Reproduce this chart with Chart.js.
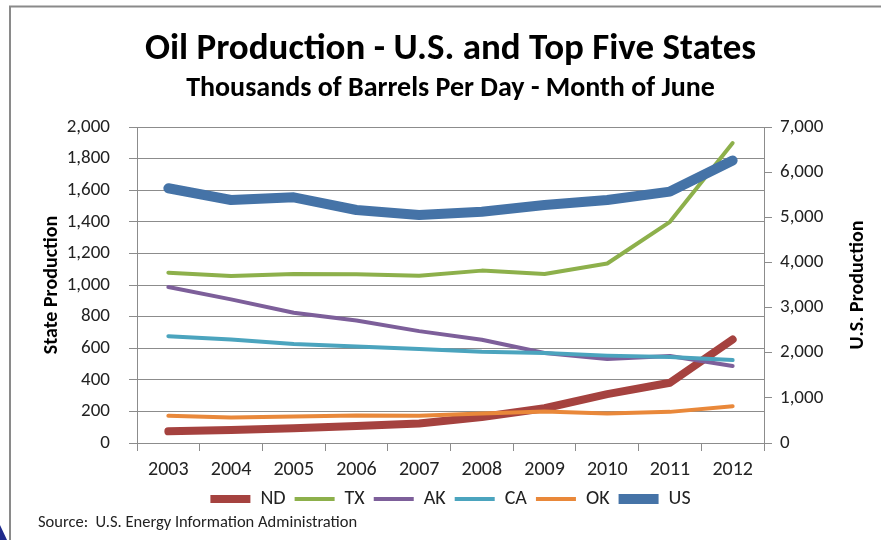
<!DOCTYPE html>
<html>
<head>
<meta charset="utf-8">
<script src="https://cdn.jsdelivr.net/npm/chart.js@4.4.1/dist/chart.umd.min.js"></script>
<style>
  html, body { margin: 0; padding: 0; background: #fff; }
  #wrap { position: relative; width: 881px; height: 540px; overflow: hidden; }
  #c { position: absolute; left: 0; top: 0; }
  #source { position: absolute; left: 38px; top: 511px; font-family: Carlito, "Liberation Sans Narrow", "DejaVu Sans Condensed", sans-serif; font-size: 16.5px; color: #222; }
</style>
</head>
<body>
<div id="wrap">
  <canvas id="c" width="881" height="540"></canvas>
  <div id="source">Source:&nbsp; U.S. Energy Information Administration</div>
</div>
<script>
const years = ['2003','2004','2005','2006','2007','2008','2009','2010','2011','2012'];
const nd = [74, 83, 93, 108, 123, 165, 220, 309, 381, 655];
const tx = [1078, 1057, 1070, 1068, 1059, 1091, 1070, 1136, 1400, 1898];
const ak = [987, 909, 824, 775, 708, 653, 570, 532, 551, 487];
const ca = [676, 655, 627, 610, 595, 578, 570, 553, 544, 525];
const ok = [172, 161, 167, 174, 172, 186, 199, 186, 197, 233];
const us = [5643, 5383, 5443, 5161, 5050, 5124, 5272, 5383, 5569, 6258];

const FONT = 'Carlito, "Liberation Sans Narrow", "DejaVu Sans Condensed", sans-serif';
const GRID = '#8c8c8c';
const TXT = '#222';

const framePlugin = {
  id: 'frame',
  beforeDraw(chart) {
    const ctx = chart.ctx;
    ctx.save();
    ctx.fillStyle = '#fff';
    ctx.fillRect(0, 0, chart.width, chart.height);
    ctx.strokeStyle = '#8a8a8a';
    ctx.lineWidth = 2;
    ctx.beginPath();
    ctx.moveTo(10, 540);
    ctx.lineTo(10, 6.5);
    ctx.lineTo(881, 6.5);
    ctx.stroke();
    ctx.fillStyle = '#1f2a8c';
    ctx.beginPath();
    ctx.moveTo(0, 525);
    ctx.lineTo(7, 540);
    ctx.lineTo(0, 540);
    ctx.closePath();
    ctx.fill();
    ctx.restore();
  },
  afterDraw(chart) {
    const ctx = chart.ctx;
    const a = chart.chartArea;
    ctx.save();
    ctx.translate(858, (a.top + a.bottom) / 2);
    ctx.rotate(-Math.PI / 2);
    ctx.font = 'bold 20px ' + FONT;
    ctx.fillStyle = '#000';
    ctx.textAlign = 'center';
    ctx.textBaseline = 'middle';
    ctx.fillText('U.S. Production', 0, 0);
    ctx.restore();
  }
};

function ds(label, data, color, width, order, axis) {
  return {
    label, data,
    borderColor: color, backgroundColor: color,
    borderWidth: width, pointRadius: 0, pointHoverRadius: 0,
    borderCapStyle: 'round', borderJoinStyle: 'round',
    tension: 0, order, yAxisID: axis || 'y'
  };
}

new Chart(document.getElementById('c'), {
  type: 'line',
  data: {
    labels: years,
    datasets: [
      ds('ND', nd, '#A5423F', 8, 5),
      ds('TX', tx, '#8DB04B', 4, 4),
      ds('AK', ak, '#7D5F9A', 4, 3),
      ds('CA', ca, '#4BA4BE', 4, 2),
      ds('OK', ok, '#E9883A', 4, 1),
      ds('US', us, '#4573A7', 10, 0, 'y2')
    ]
  },
  plugins: [framePlugin],
  options: {
    responsive: false,
    animation: false,
    events: [],
    layout: { padding: { left: 20, right: 0, top: 0, bottom: 21 } },
    plugins: {
      title: {
        display: true,
        text: 'Oil Production - U.S. and Top Five States',
        color: '#000',
        font: { family: FONT, size: 37, weight: 'bold' },
        padding: { top: 27.4, bottom: 0 }
      },
      subtitle: {
        display: true,
        text: 'Thousands of Barrels Per Day - Month of June',
        color: '#000',
        font: { family: FONT, size: 28, weight: 'bold' },
        padding: { top: 0.4, bottom: 21.2 }
      },
      legend: {
        position: 'bottom',
        labels: {
          sort: (a, b) => a.datasetIndex - b.datasetIndex,
          usePointStyle: true,
          pointStyleWidth: 40,
          pointStyle: 'line',
          boxHeight: 8,
          color: TXT,
          padding: 9,
          font: { family: FONT, size: 20 }
        }
      },
      tooltip: { enabled: false }
    },
    scales: {
      x: {
        offset: true,
        grid: { offset: true, drawOnChartArea: false, color: GRID, tickLength: 8 },
        border: { color: GRID },
        ticks: { color: TXT, font: { family: FONT, size: 20 }, padding: 7, maxRotation: 0 },
        afterFit(s) { s.height = 37; }
      },
      y: {
        position: 'left',
        min: 0, max: 2000,
        ticks: { stepSize: 200, color: TXT, font: { family: FONT, size: 19 }, padding: 19,
          callback: v => v.toLocaleString('en-US') },
        grid: { color: GRID, tickLength: 8 },
        border: { color: GRID },
        title: { display: true, text: 'State Production', color: '#000',
          font: { family: FONT, size: 20, weight: 'bold' }, padding: { top: 20, bottom: 0 } },
        afterFit(s) { s.width = 117; }
      },
      y2: {
        position: 'right',
        min: 0, max: 7000,
        ticks: { stepSize: 1000, color: TXT, font: { family: FONT, size: 19 }, padding: 8,
          callback: v => v.toLocaleString('en-US') },
        grid: { drawOnChartArea: false, color: GRID, tickLength: 8 },
        border: { color: GRID },
        afterFit(s) { s.width = 117; }
      }
    }
  }
});
</script>
</body>
</html>
